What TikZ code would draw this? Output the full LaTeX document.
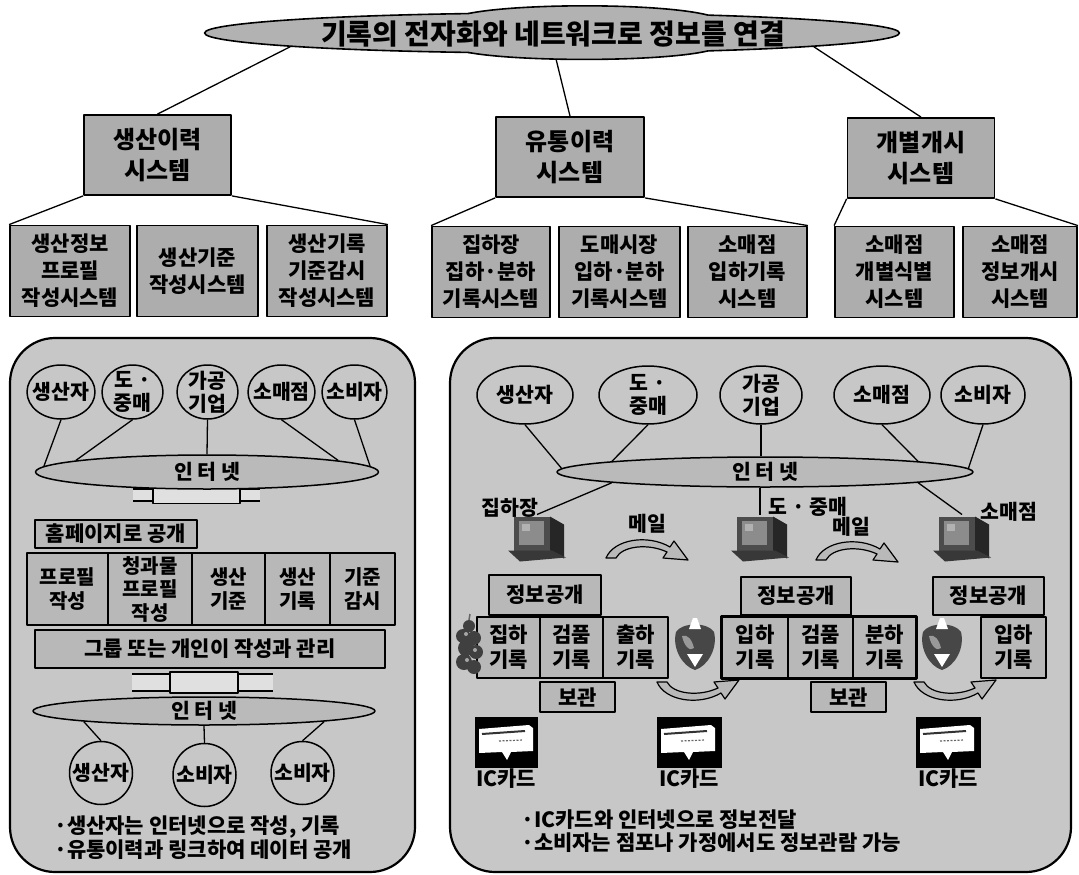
\documentclass[tikz,border=0pt]{standalone}
\usepackage{fontspec}
\setmainfont{Noto Sans CJK KR}
\usetikzlibrary{shapes.geometric}

\definecolor{boxfill}{gray}{0.68}
\definecolor{cellfill}{gray}{0.72}
\definecolor{panelfill}{gray}{0.78}
\definecolor{netfill}{gray}{0.73}
\definecolor{titlefill}{gray}{0.70}
\definecolor{plugfill}{gray}{0.88}
\newcommand{\fsz}[2]{\fontsize{#1}{#2}\selectfont\bfseries}

\tikzset{
  edge/.style={line width=1.3pt},
  topbox/.style={draw, line width=1.8pt, fill=boxfill, inner sep=0pt, align=center, font=\fsz{24}{31}},
  subbox/.style={draw, line width=1.8pt, fill=boxfill, inner sep=0pt, align=center, font=\fsz{21}{27}},
  cell/.style={draw, line width=1.5pt, fill=cellfill, inner sep=0pt, align=center, font=\fsz{21}{25}},
  panel/.style={draw, line width=2.2pt, fill=panelfill, rounded corners=45pt},
  blob/.style={ellipse, draw, line width=1.5pt, fill=panelfill, inner sep=0pt},
  net/.style={ellipse, draw, line width=1.5pt, fill=netfill, inner sep=0pt},
  lbl/.style={inner sep=0pt, align=center, font=\fsz{20.5}{23}},
  note/.style={inner sep=0pt, anchor=west, font=\fsz{21}{23}},
  plug/.style={draw, line width=1.5pt, fill=plugfill, inner sep=0pt},
  ghost/.style={inner sep=0pt, outer sep=0pt},
  % curved hand-over arrow (local frame: y grows downwards)
  curl/.pic={
    \draw[line width=1.2pt, fill=gray!55, line join=round]
      (0,20) .. controls (8,1) and (42,-4) .. (64,9)
      -- (68,3) -- (82,22) -- (57,20) -- (61,14)
      .. controls (42,5) and (16,8) .. (10,20) -- cycle;
  },
  % desktop computer icon, 58 x 47
  computer/.pic={
    \fill[black!85] (42,2) -- (56,10) -- (56,44) -- (42,36) -- cycle;
    \fill[black!70] (6,2) rectangle (42,36);
    \fill[black!45] (11,6) rectangle (36,30);
    \fill[black!30] (14,9) rectangle (22,16);
    \fill[black!78] (0,36) -- (44,36) -- (58,43) -- (12,47) -- cycle;
  },
  % IC card picture on its black ground
  iccard/.pic={
    \fill[white] (4,12) -- (54,8) -- (58,11) -- (58,34) -- (36,35) -- (32,43) -- (27,35) -- (4,36) -- cycle;
    \draw[line width=2pt, black!80] (7,17) -- (50,14);
    \draw[line width=1.2pt, black!60, dash pattern=on 2pt off 1.5pt] (24,24) -- (48,23);
  },
  % bunch of grapes
  grapes/.pic={
    \fill[black!75] (14,9) circle (6pt) (8,19) circle (7pt) (19,21) circle (7pt)
      (11,31) circle (8pt) (21,35) circle (7pt) (9,45) circle (8pt) (19,50) circle (7pt);
    \fill[black!35] (11,17) circle (2pt) (20,33) circle (2pt) (12,43) circle (2pt);
    \draw[line width=1.5pt, black!60] (14,3) -- (15,-3);
  },
  % vegetable with white tip
  veggie/.pic={
    \fill[black!72] (4,14) .. controls (0,30) and (10,48) .. (23,52)
      .. controls (36,48) and (46,30) .. (42,14)
      .. controls (36,4) and (10,4) .. (4,14) -- cycle;
    \fill[black!40] (10,18) .. controls (12,28) and (18,34) .. (22,30) .. controls (20,22) and (16,16) .. (10,18) -- cycle;
    \fill[white] (21,0) -- (25,0) -- (29,11) -- (17,11) -- cycle;
    \fill[white] (15,36) -- (31,36) -- (23,49) -- cycle;
  },
}

\begin{document}
\begin{tikzpicture}[x=1pt, y=-1pt, line join=round]
\useasboundingbox (0,0) rectangle (1079,875);
\fill[white] (0,0) rectangle (1079,875);

% ---------- title ----------
\node[ellipse, draw, line width=1.6pt, fill=titlefill, minimum width=695pt, minimum height=40pt, inner sep=0pt] (title) at (552,33) {};
\fill[titlefill] (468,13.6) .. controls (520,3) and (660,3) .. (708,15.1) -- (708,50.9)
  .. controls (660,62) and (520,62) .. (468,52.4) -- cycle;
\draw[line width=1.6pt] (468,13.6) .. controls (520,3) and (660,3) .. (708,15.1);
\draw[line width=1.6pt] (468,52.4) .. controls (520,62) and (660,62) .. (708,50.9);
\node[lbl, font=\fsz{28}{32}] (titletext) at (553,34) {기록의 전자화와 네트워크로 정보를 연결};
\coordinate (tband) at (556,59);

% ---------- systems ----------
\node[topbox, minimum width=147pt, minimum height=80pt] (b1) at (157.5,155) {생산이력\\시스템};
\node[topbox, minimum width=148pt, minimum height=80pt] (b2) at (570,157) {유통이력\\시스템};
\node[topbox, minimum width=147pt, minimum height=80pt] (b3) at (921,158) {개별개시\\시스템};
\draw[edge] (title.183) -- (b1.north);
\draw[edge] (tband) -- (b2.north);
\draw[edge] (title.357) -- (b3.north);

\node[subbox, minimum width=120pt, minimum height=91pt] (c1) at (70,271) {생산정보\\프로필\\작성시스템};
\node[subbox, minimum width=121pt, minimum height=91pt] (c2) at (197.5,271) {생산기준\\작성시스템};
\node[subbox, minimum width=120pt, minimum height=91pt] (c3) at (327,271) {생산기록\\기준감시\\작성시스템};
\node[subbox, minimum width=118pt, minimum height=91pt] (c4) at (491,272) {집하장\\집하·분하\\기록시스템};
\node[subbox, minimum width=121pt, minimum height=91pt] (c5) at (619.5,272) {도매시장\\입하·분하\\기록시스템};
\node[subbox, minimum width=119pt, minimum height=91pt] (c6) at (747.5,272) {소매점\\입하기록\\시스템};
\node[subbox, minimum width=119pt, minimum height=91pt] (c7) at (894.5,272) {소매점\\개별식별\\시스템};
\node[subbox, minimum width=114pt, minimum height=91pt] (c8) at (1020,272) {소매점\\정보개시\\시스템};
\draw[edge] (b1.south west) -- (c1.north west);
\draw[edge] (b1.south east) -- (c3.north east);
\draw[edge] (b2.south west) -- (c4.north west);
\draw[edge] (b2.south east) -- (c6.north east);
\draw[edge] (b3.south west) -- (c7.north west);
\draw[edge] (b3.south east) -- (c8.north east);

% ---------- left panel ----------
\draw[panel] (10,338) rectangle (415,872);

\node[blob, minimum width=68pt, minimum height=54pt, label={[lbl]center:생산자}] (l1) at (61,392) {};
\node[blob, minimum width=61pt, minimum height=54pt, label={[lbl]center:{도 ·\\중매}}] (l2) at (132.5,392) {};
\node[blob, minimum width=61pt, minimum height=54pt, label={[lbl]center:{가공\\기업}}] (l3) at (207.5,392) {};
\node[blob, minimum width=67pt, minimum height=54pt, label={[lbl]center:소매점}] (l4) at (281.5,392) {};
\node[blob, minimum width=65pt, minimum height=54pt, label={[lbl]center:소비자}] (l5) at (354.5,392) {};

% cable under the upper network
\fill[plugfill] (133,489) rectangle (260,501);
\draw[line width=1.6pt] (133,489) -- (260,489) (133,501) -- (260,501);
\node[plug, minimum width=87pt, minimum height=17pt] (k1) at (196.5,495) {};
\node[net, minimum width=343pt, minimum height=34pt, label={[lbl]center:인 터 넷}] (e1) at (207,472) {};
\draw[edge] (l1.south) -- (e1.178);
\draw[edge] (l2.south) -- (e1.175);
\draw[edge] (l3.south) -- (e1.north);
\draw[edge] (l4.south) -- (e1.5);
\draw[edge] (l5.south) -- (e1.2);

\node[cell, minimum width=162pt, minimum height=28pt] (h1) at (116,534) {홈페이지로 공개};
\node[cell, minimum width=81pt, minimum height=72pt, font=\fsz{20}{24}] (p1) at (67.5,589) {프로필\\작성};
\node[cell, minimum width=84pt, minimum height=72pt, font=\fsz{20}{23.5}] (p2) at (150,589) {청과물\\프로필\\작성};
\node[cell, minimum width=73pt, minimum height=72pt, font=\fsz{20}{24}] (p3) at (228.5,589) {생산\\기준};
\node[cell, minimum width=65pt, minimum height=72pt, font=\fsz{20}{24}] (p4) at (297.5,589) {생산\\기록};
\node[cell, minimum width=65pt, minimum height=72pt, font=\fsz{20}{24}] (p5) at (362.5,589) {기준\\감시};
\node[cell, minimum width=350pt, minimum height=38pt] (g1) at (210,649) {그룹 또는 개인이 작성과 관리};

% cable above the lower network
\fill[plugfill] (132,674) rectangle (273,691);
\draw[line width=1.8pt] (132,674) -- (273,674) (132,691) -- (273,691);
\node[plug, minimum width=68pt, minimum height=21pt] (k2) at (204,682.5) {};
\node[net, minimum width=342pt, minimum height=28pt, label={[lbl]center:인 터 넷}] (e2) at (204,711) {};

\node[blob, minimum width=63pt, minimum height=63pt, label={[lbl]center:생산자}] (m1) at (101,773) {};
\node[blob, minimum width=63pt, minimum height=63pt, label={[lbl]center:소비자}] (m2) at (204.5,775) {};
\node[blob, minimum width=63pt, minimum height=63pt, label={[lbl]center:소비자}] (m3) at (302.5,773) {};
\draw[edge] (e2.185) -- (m1.north);
\draw[edge] (e2.south) -- (m2.north);
\draw[edge] (e2.355) -- (m3.north);

\node[note] (n1) at (54,827) {·생산자는 인터넷으로 작성, 기록};
\node[note] (n2) at (54,850) {·유통이력과 링크하여 데이터 공개};

% ---------- right panel ----------
\draw[panel] (450,338) rectangle (1071,872);

\node[blob, minimum width=96pt, minimum height=58pt, label={[lbl]center:생산자}] (r1) at (525,395) {};
\node[blob, minimum width=98pt, minimum height=58pt, label={[lbl]center:{도 ·\\중매}}] (r2) at (648,395) {};
\node[blob, minimum width=82pt, minimum height=58pt, label={[lbl]center:{가공\\기업}}] (r3) at (761,395) {};
\node[blob, minimum width=96pt, minimum height=58pt, label={[lbl]center:소매점}] (r4) at (882,395) {};
\node[blob, minimum width=84pt, minimum height=58pt, label={[lbl]center:소비자}] (r5) at (983,395) {};
\node[net, minimum width=416pt, minimum height=30pt, label={[lbl]center:인 터 넷}] (e3) at (765,472) {};
\draw[edge] (r1.south) -- (e3.179);
\draw[edge] (r2.south) -- (e3.176);
\draw[edge] (r3.south) -- (r3.south |- e3.north);
\draw[edge] (r4.south) -- (e3.4);
\draw[edge] (r5.south) -- (e3.1);

% computers at the three stations
\node[ghost, minimum width=58pt, minimum height=47pt] (pc1) at (537,538) {};
\node[ghost, minimum width=58pt, minimum height=47pt] (pc2) at (760,538) {};
\node[ghost, minimum width=58pt, minimum height=47pt] (pc3) at (962,538) {};
\pic at (pc1.north west) {computer};
\pic at (pc2.north west) {computer};
\pic at (pc3.north west) {computer};
\draw[edge] (e3.184) -- (pc1.north);
\draw[edge] (pc2.north |- e3.south) -- (pc2.north);
\draw[edge] (e3.356) -- (pc3.north);

\node[lbl] (s1) at (510,508) {집하장};
\node[lbl] (s2) at (808,507) {도 · 중매};
\node[lbl] (s3) at (1009,512) {소매점};
\node[lbl] (mail1) at (647,524) {메일};
\node[lbl] (mail2) at (851,527) {메일};
\pic at (606,538) {curl};
\pic at (816,540) {curl};

% record boxes
\node[cell, minimum width=112pt, minimum height=40pt] (i1) at (545,595) {정보공개};
\node[cell, minimum width=110pt, minimum height=38pt] (i2) at (796,596) {정보공개};
\node[cell, minimum width=111pt, minimum height=38pt] (i3) at (988.5,596) {정보공개};

\node[cell, minimum width=63pt, minimum height=61pt] (q1) at (508.5,647.5) {집하\\기록};
\node[cell, minimum width=63pt, minimum height=61pt] (q2) at (571.5,647.5) {검품\\기록};
\node[cell, minimum width=65pt, minimum height=61pt] (q3) at (635.5,647.5) {출하\\기록};
\node[cell, minimum width=66pt, minimum height=61pt] (q4) at (755,647.5) {입하\\기록};
\node[cell, minimum width=65pt, minimum height=61pt] (q5) at (820.5,647.5) {검품\\기록};
\node[cell, minimum width=63pt, minimum height=61pt] (q6) at (884.5,647.5) {분하\\기록};
\node[cell, minimum width=65pt, minimum height=61pt] (q7) at (1013.5,647.5) {입하\\기록};
\draw[line width=3pt] (q4.north west) rectangle (q6.south east);

\node[cell, minimum width=75pt, minimum height=30pt] (v1) at (577.5,697) {보관};
\node[cell, minimum width=75pt, minimum height=30pt] (v2) at (848.5,697) {보관};

\pic at (455,617) {grapes};
\pic at (672,618) {veggie};
\pic at (919,618) {veggie};
\pic[yscale=-1] at (657,702) {curl};
\pic[yscale=-1] at (914,702) {curl};

% IC cards
\node[ghost, fill=black, minimum width=63pt, minimum height=51pt] (ic1) at (506.5,742.5) {};
\node[ghost, fill=black, minimum width=65pt, minimum height=51pt] (ic2) at (689.5,742.5) {};
\node[ghost, fill=black, minimum width=65pt, minimum height=51pt] (ic3) at (948.5,742.5) {};
\pic at (ic1.north west) {iccard};
\pic at (ic2.north west) {iccard};
\pic at (ic3.north west) {iccard};
\node[lbl, font=\fsz{21}{23}] (ict1) at (506,779) {IC카드};
\node[lbl, font=\fsz{21}{23}] (ict2) at (689,779) {IC카드};
\node[lbl, font=\fsz{21}{23}] (ict3) at (948,779) {IC카드};

\node[note] (n3) at (521,820) {·IC카드와 인터넷으로 정보전달};
\node[note] (n4) at (521,843) {·소비자는 점포나 가정에서도 정보관람 가능};
\end{tikzpicture}
\end{document}
